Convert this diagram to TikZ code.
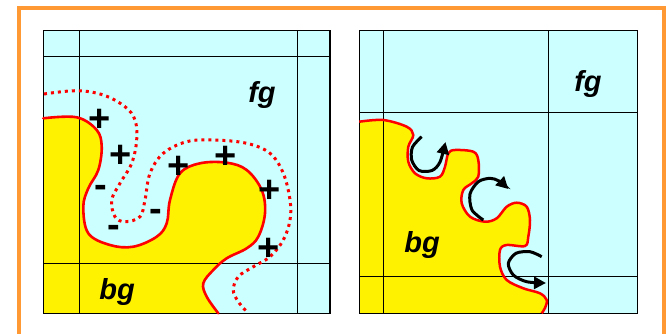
\documentclass[tikz,border=0pt]{standalone}
\usepackage{fontspec}
\setmainfont{Liberation Sans}
\usetikzlibrary{arrows.meta}
\definecolor{cyanbg}{HTML}{CCFFFF}
\definecolor{orng}{HTML}{FF9933}
\begin{document}
\begin{tikzpicture}[x=1pt,y=-1pt,
  gridln/.style={black, line width=1pt},
  frameln/.style={black, line width=1.3pt},
  redline/.style={red, line width=2.6pt, line join=round, line cap=round},
  dotln/.style={red, line width=3pt, dash pattern=on 3pt off 4pt},
  sgn/.style={font=\fontsize{38}{38}\selectfont\bfseries, inner sep=0pt, anchor=base},
  txtlbl/.style={font=\fontsize{29}{29}\selectfont\bfseries\itshape, inner sep=0pt},
  rotarrow/.style={black, line width=3pt, -{Triangle[length=12pt,width=12pt]}}]
\useasboundingbox (0,0) rectangle (667,333);
\fill[white] (0,0) rectangle (667,333);
% orange frame
\draw[orng, line width=4pt] (19,345) -- (19,8) -- (664,8) -- (664,345);

% ---------- left panel ----------
\fill[cyanbg] (43.3,30.7) rectangle (330,313.3);
\fill[yellow] plot[smooth, tension=0.6] coordinates {(43.3,118.3) (76.7,117.3) (96.7,130) (101.7,146.7) (98.3,170) (88.3,188.3) (83.3,206.7) (88.3,233.3) (110,245) (133.3,246.7) (156.7,236.7) (166.7,223.3) (170,200) (180,173.3) (200,163.3) (226.7,162.7) (246.7,170) (261.7,190) (265,213.3) (258.3,236.7) (246.7,248.3) (226.7,258.3) (213.3,270) (203.3,283.3) (206.7,296.7) (218.3,313.3)} -- (43.3,313.3) -- cycle;
\draw[gridln] (79,30.7) -- (79,313.3);
\draw[gridln] (297.3,30.7) -- (297.3,313.3);
\draw[gridln] (43.3,56) -- (330,56);
\draw[gridln] (43.3,263.3) -- (330,263.3);
\draw[frameln] (43.3,30.7) rectangle (330,313.3);
\draw[redline] plot[smooth, tension=0.6] coordinates {(43.3,118.3) (76.7,117.3) (96.7,130) (101.7,146.7) (98.3,170) (88.3,188.3) (83.3,206.7) (88.3,233.3) (110,245) (133.3,246.7) (156.7,236.7) (166.7,223.3) (170,200) (180,173.3) (200,163.3) (226.7,162.7) (246.7,170) (261.7,190) (265,213.3) (258.3,236.7) (246.7,248.3) (226.7,258.3) (213.3,270) (203.3,283.3) (206.7,296.7) (218.3,313.3)};
\draw[dotln] plot[smooth, tension=0.6] coordinates {(44,94) (76.7,90.7) (103.3,95) (125,106.7) (135,120) (136.7,140) (131.7,163.3) (120,183.3) (111.7,200) (115,216.7) (125,221.7) (140,216.7) (145,200) (150,173.3) (163.3,153.3) (186.7,141.7) (213.3,140) (246.7,143.3) (270,153.3) (283.3,173.3) (290,200) (290,220) (283.3,240) (270,256.7) (253.3,266.7) (238.3,276.7) (233.3,290) (238.3,301.7) (248.3,313.3)};
% signs
\node[sgn] (p1) at (99.3,131) {+};
\node[sgn] (p2) at (120.7,167.6) {+};
\node[sgn] (p3) at (179,178.3) {+};
\node[sgn] (p4) at (225.7,168.3) {+};
\node[sgn] (p5) at (270,202.6) {+};
\node[sgn] (p6) at (268.3,260.6) {+};
\node[sgn] (m1) at (100.7,197.3) {-};
\node[sgn] (m2) at (155.7,221.7) {-};
\node[sgn] (m3) at (114,237.3) {-};
\node[txtlbl] (fgL) at (262,95) {fg};
\node[txtlbl] (bgL) at (117,292) {bg};

% ---------- right panel ----------
\fill[cyanbg] (359.3,30.7) rectangle (637.3,313.3);
\fill[yellow] plot[smooth, tension=0.55] coordinates {(359.3,121.7) (383.3,120) (406.7,126.7) (413.3,135) (408.3,146.7) (408.3,161.7) (415,173.3) (426.7,178.3) (440,176.7) (445,166.7) (448.3,153.3) (455,150) (473.3,151.7) (478.3,160) (478.3,176.7) (471.7,183.3) (463.3,190) (461.7,203.3) (470,216.7) (485,221.7) (496.7,218.3) (506.7,206.7) (516.7,202.7) (526.7,206.7) (530,220) (528.3,236.7) (525,246) (506.7,245) (500,250) (500,266.7) (506.7,280) (523.3,288.3) (540,293.3) (546.7,300) (545,308) (541.7,313.3)} -- (359.3,313.3) -- cycle;
\draw[gridln] (383.3,30.7) -- (383.3,313.3);
\draw[gridln] (548,30.7) -- (548,313.3);
\draw[gridln] (359.3,112) -- (637.3,112);
\draw[gridln] (359.3,276.7) -- (637.3,276.7);
\draw[frameln] (359.3,30.7) rectangle (637.3,313.3);
\draw[red, line width=2.5pt, line join=round] plot[smooth, tension=0.55] coordinates {(359.3,121.7) (383.3,120) (406.7,126.7) (413.3,135) (408.3,146.7) (408.3,161.7) (415,173.3) (426.7,178.3) (440,176.7) (445,166.7) (448.3,153.3) (455,150) (473.3,151.7) (478.3,160) (478.3,176.7) (471.7,183.3) (463.3,190) (461.7,203.3) (470,216.7) (485,221.7) (496.7,218.3) (506.7,206.7) (516.7,202.7) (526.7,206.7) (530,220) (528.3,236.7) (525,246) (506.7,245) (500,250) (500,266.7) (506.7,280) (523.3,288.3) (540,293.3) (546.7,300) (545,308) (541.7,313.3)};
% rotation arrows
\draw[rotarrow] plot[smooth] coordinates {(421.7,136.7) (412.5,147) (411.7,160) (419,170.5) (432,170.5) (440,162) (445.5,142)};
\draw[rotarrow] plot[smooth] coordinates {(483.3,220) (472,210) (470,194) (478.3,181.7) (490,178.3) (499,181) (508.3,189)};
\draw[rotarrow] plot[smooth] coordinates {(541.7,256.7) (530,251.7) (516,253.3) (508.3,263.3) (513.3,275) (526.7,281.7) (546,283)};
\node[txtlbl] (fgR) at (588,84) {fg};
\node[txtlbl] (bgR) at (422,245) {bg};
\end{tikzpicture}
\end{document}
